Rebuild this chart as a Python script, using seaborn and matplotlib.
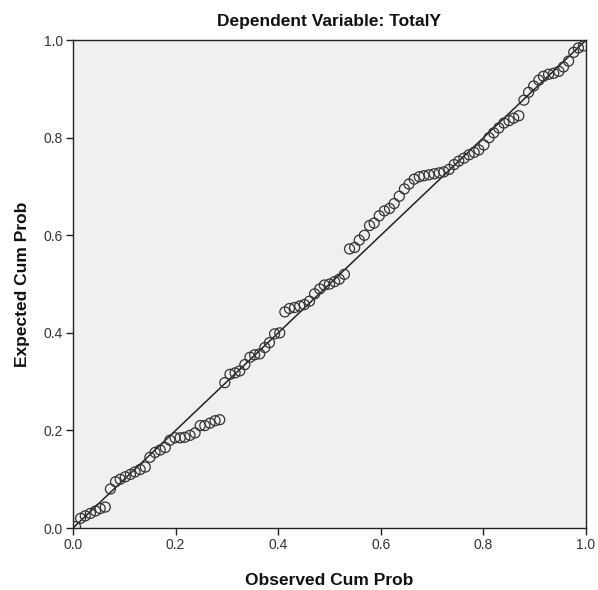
import matplotlib
matplotlib.use("Agg")
import matplotlib.pyplot as plt
import seaborn as sns
import pandas as pd

# Observed cumulative probability (x) and expected cumulative probability (y)
observed_cum_prob = [
    0.005, 0.015, 0.024, 0.034, 0.044, 0.053, 0.063, 0.073, 0.083, 0.092,
    0.102, 0.112, 0.121, 0.131, 0.141, 0.150, 0.160, 0.170, 0.180, 0.189,
    0.199, 0.209, 0.218, 0.228, 0.238, 0.248, 0.257, 0.267, 0.277, 0.286,
    0.296, 0.306, 0.316, 0.325, 0.335, 0.345, 0.354, 0.364, 0.374, 0.383,
    0.393, 0.403, 0.413, 0.422, 0.432, 0.442, 0.451, 0.461, 0.471, 0.481,
    0.490, 0.500, 0.510, 0.519, 0.529, 0.539, 0.549, 0.558, 0.568, 0.578,
    0.587, 0.597, 0.607, 0.617, 0.626, 0.636, 0.646, 0.655, 0.665, 0.675,
    0.684, 0.694, 0.704, 0.714, 0.723, 0.733, 0.743, 0.752, 0.762, 0.772,
    0.782, 0.791, 0.801, 0.811, 0.820, 0.830, 0.840, 0.850, 0.859, 0.869,
    0.879, 0.888, 0.898, 0.908, 0.917, 0.927, 0.937, 0.947, 0.956, 0.966,
    0.976, 0.985, 0.995,
]
expected_cum_prob = [
    0.003, 0.020, 0.025, 0.030, 0.035, 0.040, 0.043, 0.080, 0.095, 0.100,
    0.105, 0.110, 0.115, 0.120, 0.125, 0.145, 0.155, 0.160, 0.165, 0.180,
    0.185, 0.185, 0.186, 0.190, 0.195, 0.210, 0.210, 0.215, 0.220, 0.222,
    0.298, 0.315, 0.318, 0.322, 0.335, 0.350, 0.355, 0.357, 0.370, 0.380,
    0.398, 0.400, 0.443, 0.450, 0.452, 0.455, 0.458, 0.465, 0.480, 0.490,
    0.498, 0.500, 0.505, 0.510, 0.520, 0.572, 0.575, 0.590, 0.600, 0.620,
    0.625, 0.640, 0.650, 0.655, 0.665, 0.680, 0.695, 0.705, 0.715, 0.720,
    0.722, 0.724, 0.726, 0.728, 0.730, 0.735, 0.745, 0.752, 0.758, 0.765,
    0.770, 0.775, 0.785, 0.800, 0.810, 0.820, 0.830, 0.835, 0.840, 0.845,
    0.877, 0.893, 0.906, 0.918, 0.926, 0.930, 0.932, 0.936, 0.945, 0.957,
    0.975, 0.984, 0.988,
]
reference_line = [0.0, 1.0]
tick_values = [0.0, 0.2, 0.4, 0.6, 0.8, 1.0]
tick_labels = ["0.0", "0.2", "0.4", "0.6", "0.8", "1.0"]

title_text = "Dependent Variable: TotalY"
x_label = "Observed Cum Prob"
y_label = "Expected Cum Prob"

sns.set_style("ticks")
plt.rcParams["font.family"] = ["Liberation Sans", "DejaVu Sans"]

df = pd.DataFrame({"observed": observed_cum_prob, "expected": expected_cum_prob})

fig = plt.figure(figsize=(5.98, 5.90), dpi=100)
ax = fig.add_axes([0.122, 0.105, 0.858, 0.827])
ax.set_facecolor("#f0f0f0")

ax.plot(reference_line, reference_line, color="#222222", linewidth=1.1, zorder=2)
sns.scatterplot(data=df, x="observed", y="expected", ax=ax, marker="o",
                s=52, facecolor="none", edgecolor="#333333", linewidth=0.9,
                zorder=3, legend=False)

ax.set_xlim(0, 1)
ax.set_ylim(0, 1)
ax.set_xticks(tick_values)
ax.set_xticklabels(tick_labels)
ax.set_yticks(tick_values)
ax.set_yticklabels(tick_labels)
ax.tick_params(axis="both", direction="out", length=5, width=1, color="#222222",
               labelsize=10, labelcolor="#333333", pad=2)

for side in ["top", "right", "left", "bottom"]:
    ax.spines[side].set_visible(True)
    ax.spines[side].set_color("#222222")
    ax.spines[side].set_linewidth(1.0)

ax.set_xlabel(x_label, fontsize=12.5, fontweight="bold", color="#111111", labelpad=15)
ax.set_ylabel(y_label, fontsize=12.5, fontweight="bold", color="#111111", labelpad=10)
ax.set_title(title_text, fontsize=12.5, fontweight="bold", color="#111111", pad=10)

fig.savefig("out.png", dpi=100, facecolor="white")
